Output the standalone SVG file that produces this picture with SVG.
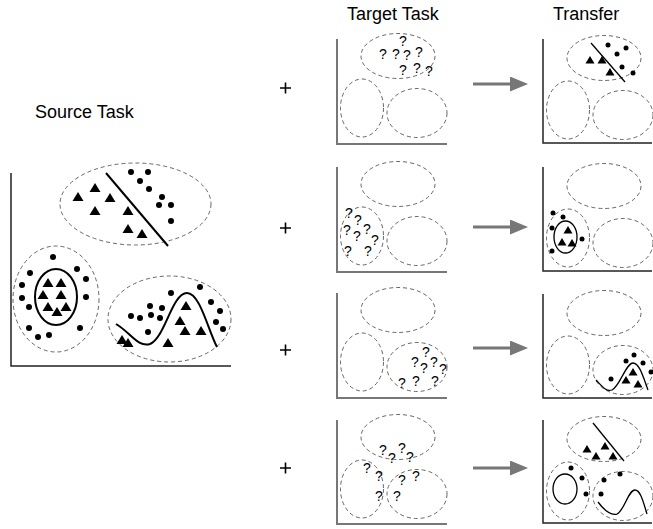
<svg xmlns="http://www.w3.org/2000/svg" xmlns:xlink="http://www.w3.org/1999/xlink" width="653" height="529" viewBox="0 0 653 529">
<style>
.lbl{font-family:"Liberation Sans",Arial,sans-serif;font-size:18px;fill:#000}
.q{font-family:"Liberation Sans",Arial,sans-serif;font-size:14px;fill:#000;text-anchor:middle}
.dash{fill:none;stroke:#666;stroke-width:1;stroke-dasharray:4 3}
.axs{fill:none;stroke:#222;stroke-width:1.5}
.axt{fill:none;stroke:#777;stroke-width:2}
.sol{fill:none;stroke:#000;stroke-width:2}
.solt{fill:none;stroke:#000;stroke-width:1.3}
.plus{stroke:#000;stroke-width:1.6}
</style>
<defs>
<path id="tri" d="M0,-5 L5.5,4 L-5.5,4Z" fill="#000"/>
<path id="tris" d="M0,-4 L4.5,3.5 L-4.5,3.5Z" fill="#000"/>
<marker id="ah" markerWidth="6" markerHeight="5" refX="0" refY="2.5" orient="auto" markerUnits="strokeWidth"><path d="M0,0 L6,2.5 L0,5Z" fill="#777"/></marker>
</defs>

<text class="lbl" x="35" y="118">Source Task</text>
<text class="lbl" x="347" y="20">Target Task</text>
<text class="lbl" x="553" y="20">Transfer</text>

<g id="source">
<path class="axs" d="M11,173 V366 H231"/>
<ellipse class="dash" cx="135.5" cy="204" rx="75.5" ry="41"/>
<ellipse class="dash" cx="56" cy="299" rx="43" ry="53"/>
<ellipse class="dash" cx="169.5" cy="319" rx="61.5" ry="43"/>
<path class="sol" d="M106,173 L168,246"/>
<ellipse class="sol" cx="56" cy="297" rx="21" ry="28"/>
<path class="sol" d="M116,324 C130,332 138,348 150,344 C165,338 172,293 187,293 C200,293 208,330 217,347"/>
<g>
<use xlink:href="#tri" x="78" y="197"/><use xlink:href="#tri" x="95" y="188"/><use xlink:href="#tri" x="110" y="198"/><use xlink:href="#tri" x="95" y="211"/><use xlink:href="#tri" x="128" y="211"/><use xlink:href="#tri" x="128" y="229"/><use xlink:href="#tri" x="142" y="234"/>
<use xlink:href="#tri" x="48" y="283"/><use xlink:href="#tri" x="61" y="283"/><use xlink:href="#tri" x="43" y="295"/><use xlink:href="#tri" x="61" y="295"/><use xlink:href="#tri" x="48" y="307"/><use xlink:href="#tri" x="66" y="307"/><use xlink:href="#tri" x="57" y="312"/>
<use xlink:href="#tri" x="122" y="340"/><use xlink:href="#tri" x="128" y="343"/><use xlink:href="#tri" x="168" y="343"/><use xlink:href="#tri" x="180" y="321"/><use xlink:href="#tri" x="186" y="306"/><use xlink:href="#tri" x="185" y="331"/><use xlink:href="#tri" x="201" y="331"/>
</g>
<g fill="#000">
<circle cx="131" cy="172" r="3"/><circle cx="148" cy="172" r="3"/><circle cx="140" cy="181" r="3"/><circle cx="149" cy="189" r="3"/><circle cx="162" cy="197" r="3"/><circle cx="159" cy="205" r="3"/><circle cx="171" cy="205" r="3"/><circle cx="171" cy="221" r="3"/>
<circle cx="53" cy="257" r="3"/><circle cx="30" cy="273" r="3"/><circle cx="77" cy="269" r="3"/><circle cx="22" cy="285" r="3"/><circle cx="86" cy="279" r="3"/><circle cx="22" cy="298" r="3"/><circle cx="86" cy="297" r="3"/><circle cx="29" cy="307" r="3"/><circle cx="29" cy="328" r="3"/><circle cx="38" cy="337" r="3"/><circle cx="49" cy="335" r="3"/><circle cx="80" cy="328" r="3"/>
<circle cx="200" cy="287" r="3"/><circle cx="171" cy="293" r="3"/><circle cx="150" cy="306" r="3"/><circle cx="162" cy="308" r="3"/><circle cx="131" cy="316" r="3"/><circle cx="140" cy="318" r="3"/><circle cx="151" cy="315" r="3"/><circle cx="160" cy="318" r="3"/><circle cx="148" cy="332" r="3"/><circle cx="211" cy="302" r="3"/><circle cx="220" cy="311" r="3"/><circle cx="216" cy="322" r="3"/><circle cx="223" cy="329" r="3"/>
</g>
</g>

<g id="plus-signs">
<path class="plus" d="M280,88 H291 M285.5,82.5 V93.5"/>
<path class="plus" d="M280,228 H291 M285.5,222.5 V233.5"/>
<path class="plus" d="M280,350 H291 M285.5,344.5 V355.5"/>
<path class="plus" d="M280,468 H291 M285.5,462.5 V473.5"/>
</g>

<g id="target1">
<path class="axt" d="M337,39 V144 H447"/>
<ellipse class="dash" cx="398" cy="56" rx="37" ry="22.5"/>
<ellipse class="dash" cx="362" cy="108" rx="21.5" ry="29"/>
<ellipse class="dash" cx="417" cy="113" rx="30" ry="24.5"/>
<text class="q" x="403" y="46">?</text><text class="q" x="383" y="59">?</text><text class="q" x="396" y="59">?</text><text class="q" x="407" y="60">?</text><text class="q" x="419" y="57">?</text><text class="q" x="403" y="75">?</text><text class="q" x="417" y="73">?</text><text class="q" x="429" y="76">?</text>
</g>
<g id="target2">
<path class="axt" d="M337,167 V272 H447"/>
<ellipse class="dash" cx="398" cy="184" rx="37" ry="22.5"/>
<ellipse class="dash" cx="362" cy="236" rx="21.5" ry="29"/>
<ellipse class="dash" cx="417" cy="241" rx="30" ry="24.5"/>
<text class="q" x="349" y="218">?</text><text class="q" x="358" y="225">?</text><text class="q" x="347" y="235">?</text><text class="q" x="357" y="241">?</text><text class="q" x="367" y="234">?</text><text class="q" x="375" y="245">?</text><text class="q" x="348" y="256">?</text><text class="q" x="368" y="256">?</text>
</g>
<g id="target3">
<path class="axt" d="M337,293 V398 H447"/>
<ellipse class="dash" cx="398" cy="310" rx="37" ry="22.5"/>
<ellipse class="dash" cx="362" cy="362" rx="21.5" ry="29"/>
<ellipse class="dash" cx="417" cy="367" rx="30" ry="24.5"/>
<text class="q" x="426" y="357">?</text><text class="q" x="415" y="367">?</text><text class="q" x="434" y="367">?</text><text class="q" x="424" y="373">?</text><text class="q" x="443" y="374">?</text><text class="q" x="402" y="388">?</text><text class="q" x="416" y="386">?</text><text class="q" x="435" y="386">?</text>
</g>
<g id="target4">
<path class="axt" d="M337,420 V524 H447"/>
<ellipse class="dash" cx="398" cy="437" rx="37" ry="22.5"/>
<ellipse class="dash" cx="362" cy="489" rx="21.5" ry="29"/>
<ellipse class="dash" cx="417" cy="494" rx="30" ry="24.5"/>
<text class="q" x="383" y="455">?</text><text class="q" x="392" y="463">?</text><text class="q" x="402" y="453">?</text><text class="q" x="410" y="462">?</text><text class="q" x="367" y="473">?</text><text class="q" x="379" y="481">?</text><text class="q" x="402" y="485">?</text><text class="q" x="416" y="481">?</text><text class="q" x="379" y="501">?</text><text class="q" x="397" y="501">?</text>
</g>

<g id="connectors">
<path d="M473,84 H510" stroke="#777" stroke-width="3" marker-end="url(#ah)"/>
<path d="M473,227 H510" stroke="#777" stroke-width="3" marker-end="url(#ah)"/>
<path d="M473,348 H510" stroke="#777" stroke-width="3" marker-end="url(#ah)"/>
<path d="M473,468 H510" stroke="#777" stroke-width="3" marker-end="url(#ah)"/>
</g>

<g id="transfer1">
<path class="axs" d="M543,39 V143 H652"/>
<ellipse class="dash" cx="604" cy="58" rx="37" ry="22.5"/>
<ellipse class="dash" cx="568" cy="110" rx="21.5" ry="29"/>
<ellipse class="dash" cx="623" cy="115" rx="30" ry="24.5"/>
<path class="solt" d="M591,43 L625,82"/>
<use xlink:href="#tris" x="590" y="60"/><use xlink:href="#tris" x="602" y="60"/><use xlink:href="#tris" x="610" y="72"/>
<g fill="#000"><circle cx="608" cy="45" r="2.5"/><circle cx="626" cy="48" r="2.5"/><circle cx="617" cy="54" r="2.5"/><circle cx="622" cy="67" r="2.5"/><circle cx="633" cy="73" r="2.5"/></g>
</g>
<g id="transfer2">
<path class="axs" d="M543,167 V271 H652"/>
<ellipse class="dash" cx="604" cy="186" rx="37" ry="22.5"/>
<ellipse class="dash" cx="568" cy="238" rx="21.5" ry="29"/>
<ellipse class="dash" cx="623" cy="243" rx="30" ry="24.5"/>
<ellipse class="solt" cx="565.5" cy="237" rx="11.5" ry="16"/>
<use xlink:href="#tris" x="568" y="230"/><use xlink:href="#tris" x="562" y="242"/><use xlink:href="#tris" x="572" y="243"/>
<g fill="#000"><circle cx="553" cy="213" r="2.5"/><circle cx="563" cy="217" r="2.5"/><circle cx="552" cy="228" r="2.5"/><circle cx="582" cy="239" r="2.5"/><circle cx="552" cy="251" r="2.5"/></g>
</g>
<g id="transfer3">
<path class="axs" d="M543,294 V398 H652"/>
<ellipse class="dash" cx="604" cy="313" rx="37" ry="22.5"/>
<ellipse class="dash" cx="568" cy="365" rx="21.5" ry="29"/>
<ellipse class="dash" cx="623" cy="370" rx="30" ry="24.5"/>
<path class="solt" d="M596,380 C602,386 606,392 612,390 C620,386 626,363 633,363 C640,363 644,380 648,390"/>
<use xlink:href="#tris" x="633" y="372"/><use xlink:href="#tris" x="626" y="380"/><use xlink:href="#tris" x="638" y="384"/>
<g fill="#000"><circle cx="634" cy="355" r="2.5"/><circle cx="626" cy="361" r="2.5"/><circle cx="643" cy="363" r="2.5"/><circle cx="611" cy="379" r="2.5"/><circle cx="651" cy="372" r="2.5"/></g>
</g>
<g id="transfer4">
<path class="axs" d="M543,420 V523 H652"/>
<ellipse class="dash" cx="604" cy="439" rx="37" ry="22.5"/>
<ellipse class="dash" cx="568" cy="491" rx="21.5" ry="29"/>
<ellipse class="dash" cx="623" cy="496" rx="30" ry="24.5"/>
<path class="solt" d="M593,423 L624,461"/>
<use xlink:href="#tris" x="587" y="449"/><use xlink:href="#tris" x="596" y="456"/><use xlink:href="#tris" x="605" y="446"/><use xlink:href="#tris" x="613" y="456"/>
<ellipse class="solt" cx="565" cy="489" rx="12" ry="15"/>
<g fill="#000"><circle cx="571" cy="468" r="2.5"/><circle cx="582" cy="478" r="2.5"/><circle cx="586" cy="494" r="2.5"/><circle cx="604" cy="480" r="2.5"/><circle cx="620" cy="474" r="2.5"/><circle cx="601" cy="494" r="2.5"/></g>
<path class="solt" d="M598,502 C604,510 610,516 617,514 C625,510 628,490 635,490 C641,490 644,505 647,514"/>
</g>
</svg>
